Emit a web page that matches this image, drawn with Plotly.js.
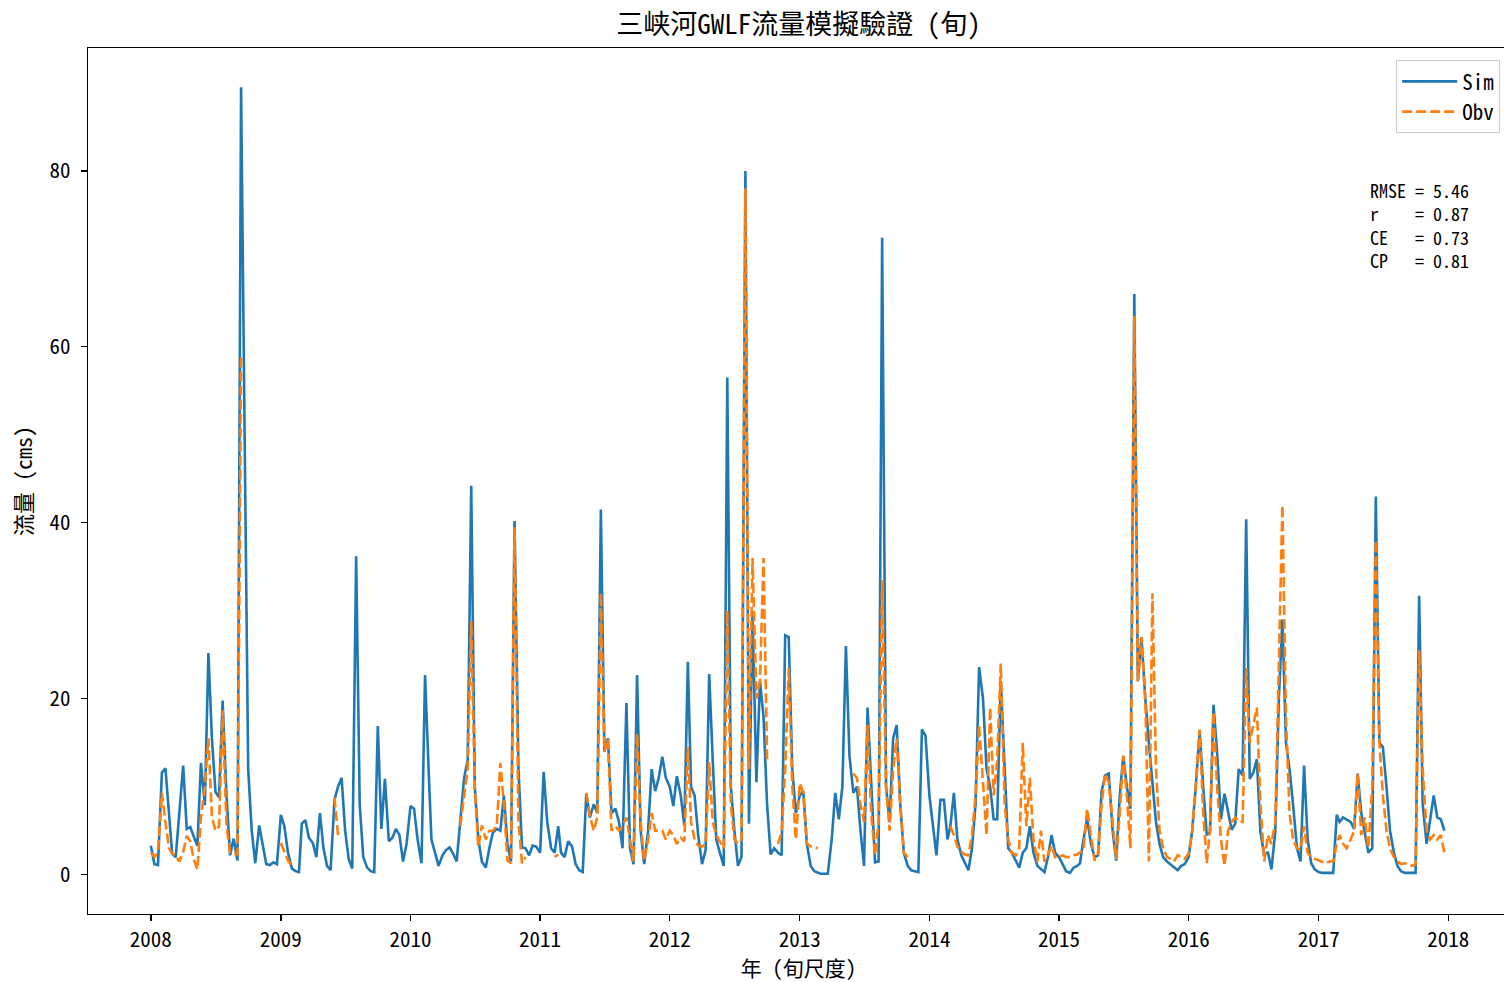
<!DOCTYPE html>
<html>
<head>
<meta charset="utf-8">
<script src="https://cdn.plot.ly/plotly-3.0.1.min.js"></script>
<style>
html,body{margin:0;padding:0;overflow:hidden;background:#fff;}
#chart{width:1510px;height:982px;}
</style>
</head>
<body>
<div id="chart"></div>
<script>
// ---- data (dekadal flow, cms), 36 dekads per year ----
const years = [2008, 2009, 2010, 2011, 2012, 2013, 2014, 2015, 2016, 2017];
const dekadDays = ['01', '11', '21'];

const sim2008 = [3.3, 1.2, 1.1, 11.6, 12.1, 6.8, 2.4, 2.0, 7.1, 12.4, 5.2, 5.4, 4.3, 3.3, 12.7, 7.9, 25.2, 15.4, 9.4, 8.8, 19.8, 9.0, 2.2, 4.1, 1.6, 89.5, 50, 12, 5, 1.3, 5.6, 3.3, 1.2, 1.1, 1.4, 1.2];
const sim2009 = [6.8, 5.5, 2.5, 0.7, 0.4, 0.3, 5.8, 6.2, 4.2, 3.6, 2.0, 7.0, 3.0, 1.0, 0.5, 8.5, 10.0, 11.0, 5.0, 1.8, 0.7, 36.2, 8.0, 2.0, 0.8, 0.4, 0.3, 16.9, 5.2, 10.9, 3.8, 4.2, 5.2, 4.5, 1.5, 3.5];
const sim2010 = [7.8, 7.5, 4.0, 1.3, 22.7, 12, 4, 2.5, 1.0, 2.2, 2.8, 3.1, 2.4, 1.5, 6, 11, 13, 44.2, 10, 4, 1.5, 0.8, 3, 4.8, 5.2, 5, 9.0, 3.5, 1.5, 40.2, 12, 3.1, 3.0, 2.2, 3.3, 3.2];
const sim2011 = [2.5, 11.7, 6, 3, 2.5, 5.5, 2.5, 2.0, 3.8, 3.2, 1.2, 0.5, 0.3, 9.2, 6.5, 8, 7, 41.5, 14, 15.5, 7, 7.5, 6, 3, 19.5, 3, 1.2, 22.7, 5, 1.2, 5, 12, 9.5, 11, 13.4, 11];
const sim2012 = [10, 7.8, 11.2, 9, 5.6, 24.2, 10, 9, 4.5, 1.2, 2.8, 22.8, 13, 4, 2.5, 1.0, 56.5, 10, 5, 1.0, 2.0, 80, 5.8, 30, 10.5, 22, 18, 8, 2.3, 3.0, 2.5, 2.2, 27.2, 27, 12, 7];
const sim2013 = [9, 9.5, 3.5, 1.0, 0.4, 0.2, 0.1, 0.1, 0.1, 4, 9.3, 6.3, 10, 26, 13.5, 9.3, 10, 5, 1.0, 19, 10, 1.4, 1.5, 72.4, 10, 6, 15.5, 17, 8, 2.5, 1.0, 0.5, 0.4, 0.3, 16.5, 15.8];
const sim2014 = [9, 5.5, 2.2, 8.5, 8.5, 4, 5.5, 9.3, 4, 2.2, 1.3, 0.5, 3, 8, 23.6, 20, 12, 10, 6.3, 6.3, 22, 12, 3, 2.5, 1.5, 0.8, 2.5, 3, 5.5, 2.5, 1.0, 0.6, 0.3, 2, 4.5, 2.5];
const sim2015 = [2.0, 1.2, 0.4, 0.2, 0.8, 1.0, 1.3, 4, 6.4, 3.5, 2.0, 2.2, 9.5, 11.3, 11.5, 5, 1.6, 9, 13.5, 10, 7.5, 66, 22, 27, 20, 15, 10, 6, 3.5, 2, 1.5, 1.2, 0.8, 0.5, 1.0, 1.2];
const sim2016 = [2, 5, 10, 16.3, 10, 4.5, 4.8, 19.3, 14, 6.3, 9.2, 7, 5.1, 5.8, 12, 11.3, 40.4, 10.9, 11.6, 13.1, 4.9, 2.2, 2.6, 0.6, 4.9, 20, 29, 15, 12, 8, 3, 1.5, 12.4, 4, 1.3, 0.6];
const sim2017 = [0.3, 0.2, 0.2, 0.2, 0.2, 6.8, 6.0, 6.5, 6.3, 6.0, 5.2, 11.5, 7, 4.5, 2.5, 3, 43, 15, 14.5, 10, 5, 2.5, 1.0, 0.4, 0.2, 0.2, 0.2, 0.2, 31.7, 8, 3.5, 6, 9, 6.5, 6.3, 5];

const obv2008 = [2.5, 2.0, 2.6, 9.3, 6.0, 3.0, 2.4, 2.2, 1.5, 2.6, 4.4, 3.8, 1.7, 0.6, 6.5, 10, 15.5, 6.5, 5, 5.5, 18.7, 5.5, 2.5, 2.4, 2.3, 59, null, null, null, null, null, null, null, null, null, null];
const obv2009 = [3.6, 2.6, 1.6, 1.0, null, null, null, null, null, null, null, null, null, null, null, 8.8, 4.5, null, null, null, null, null, null, null, null, null, null, null, null, null, null, null, null, null, null, null];
const obv2010 = [null, null, null, null, null, null, null, null, null, null, null, null, null, null, 5.5, 9, 12, 28.8, 10, 3.1, 5.6, 4, 5, 5, 5.5, 12.7, 8, 1.6, 1.3, 39.5, 6, 1.3, 2.0, null, null, null];
const obv2011 = [null, null, null, null, 2.0, 2.3, null, null, null, null, null, null, null, 9.3, 6.7, 5.0, 6.5, 32, 14, 15.4, 5, 5.5, 5.0, 5.5, 6.5, 4, 1.5, 16, 6, 1.6, 4, 7, 5, 5, 5, 4];
const obv2012 = [5.0, 4.5, 3.5, 4.2, 3.8, 14.5, 6, 4, 3.3, 3.2, 3.5, 12.8, 6, 4.5, 3.8, 3.0, 30, 8, 4, 3.5, 4, 78, 12, 36, 20, 22, 36, 13, null, null, 3.5, 4.8, 12, 23.5, 10, 4];
const obv2013 = [10.4, 9.3, 3.5, 3.2, 3.1, 3.0, null, null, null, null, null, null, null, null, null, 11.5, 11, 8, 6, 17, 7, 2.2, 6, 33.5, 10, 5, 12, 15.5, 8, 2.5, 2.0, null, null, null, null, null];
const obv2014 = [null, null, null, null, null, null, 5.5, 4.5, 3.2, 2.6, 2.3, 2.2, 4.5, 9, 17, 10, 4.5, 19, 9, 13, 24, 8, 4, 2.5, 2.2, 3, 15, 5.5, 11, 4, 1.5, 5, 1.5, 2.3, 3.3, 2.0];
const obv2015 = [2.0, 2.2, 2.0, 2.0, 2.2, 2.3, 2.5, 2.8, 7.5, 4.5, 1.6, 2.4, 8, 11.5, 10.5, 6, 1.8, 7, 13.5, 9, 3, 63.5, 22, 27, 20, 1.5, 32, 12, 5, 3, 2, 1.8, 1.5, 2.2, 2.0, 1.8];
const obv2016 = [2.4, 5, 10, 16.5, 7, 1.3, 5, 18.5, 10, 4, 1.0, 5, 6, 6.5, 6, 6, 23.5, 15, 17, 19, 8, 1.5, 4.5, 3.5, 6, 25, 42, 18, 7, 4, 3, 2.8, 5.5, 2.5, 2.0, 1.8];
const obv2017 = [1.6, 1.5, 1.3, 1.5, 1.5, 3.5, 4.5, 3.5, 3.0, 4, 5, 11.5, 4.5, 6.5, 3, 10, 38, 15, 9, 5, 3, 2, 1.5, 1.2, 1.3, 1.2, 1.0, 1.2, 25.5, 12, 5, 4, 4.5, 4, 4.5, 2.5];

const simByYear = [sim2008, sim2009, sim2010, sim2011, sim2012, sim2013, sim2014, sim2015, sim2016, sim2017];
const obvByYear = [obv2008, obv2009, obv2010, obv2011, obv2012, obv2013, obv2014, obv2015, obv2016, obv2017];

const statLabels = ['RMSE', 'r', 'CE', 'CP'];
const statValues = ['5.46', '0.87', '0.73', '0.81'];
const yearTicks = ['2008', '2009', '2010', '2011', '2012', '2013', '2014', '2015', '2016', '2017', '2018'];

// ---- build series ----
const dates = [], sim = [], obv = [];
years.forEach((y, yi) => {
  for (let k = 0; k < 36; k++) {
    const m = Math.floor(k / 3) + 1;
    dates.push(y + '-' + String(m).padStart(2, '0') + '-' + dekadDays[k % 3]);
    sim.push(simByYear[yi][k]);
    obv.push(obvByYear[yi][k]);
  }
});

const FONT = '"Noto Sans Mono CJK SC", "Noto Sans CJK SC", sans-serif';
const traces = [
  {x: dates, y: sim, name: 'Sim', type: 'scatter', mode: 'lines',
   line: {color: '#1f77b4', width: 2.6}, connectgaps: false},
  {x: dates, y: obv, name: 'Obv', type: 'scatter', mode: 'lines',
   line: {color: '#ff7f0e', width: 2.6, dash: '10px,4px'}, connectgaps: false}
];

const statText = statLabels.map((lab, i) =>
  (lab + '    ').slice(0, 5).replace(/ /g, '\u00a0') + '=\u00a0' + statValues[i]).join('<br>');

const annotations = [{
  xref: 'paper', yref: 'paper', x: (1368 - 88) / 1421, y: (914 - 175) / 866,
  xanchor: 'left', yanchor: 'top', align: 'left', showarrow: false,
  text: statText,
  font: {family: FONT, size: 18, color: '#000'}
}];

const layout = {
  width: 1510, height: 982,
  margin: {l: 88, r: 1, t: 48, b: 68},
  paper_bgcolor: '#fff', plot_bgcolor: '#fff',
  font: {family: FONT, color: '#000', size: 21},
  title: {text: '三峡河GWLF流量模擬驗證 (旬)', x: 0.5, xref: 'paper', xanchor: 'center',
          y: 1 - 25 / 982, yref: 'container', yanchor: 'middle',
          font: {family: FONT, size: 27, color: '#000'}},
  showlegend: true,
  legend: {x: (1500 - 88) / 1421, xanchor: 'right', y: (914 - 60) / 866, yanchor: 'top',
           bgcolor: 'rgba(255,255,255,0.8)', bordercolor: '#cccccc', borderwidth: 1.2,
           itemwidth: 55, tracegroupgap: 4,
           font: {family: FONT, size: 21, color: '#000'}},
  xaxis: {type: 'date', range: ['2007-07-08', '2018-06-21'],
          tickmode: 'array', tickvals: yearTicks.map(t => t + '-01-01'), ticktext: yearTicks,
          showline: true, linecolor: '#000', linewidth: 1.3, mirror: true,
          ticks: 'outside', ticklen: 6, tickwidth: 1.3, tickcolor: '#000',
          showgrid: false, zeroline: false,
          tickfont: {family: FONT, size: 21, color: '#000'},
          title: {text: '年 (旬尺度)', standoff: 16, font: {family: FONT, size: 21, color: '#000'}}},
  yaxis: {range: [-4.47, 93.97], tickmode: 'array', tickvals: [0, 20, 40, 60, 80],
          showline: true, linecolor: '#000', linewidth: 1.3, mirror: true,
          ticks: 'outside', ticklen: 6, tickwidth: 1.3, tickcolor: '#000',
          ticklabelstandoff: 6,
          showgrid: false, zeroline: false,
          tickfont: {family: FONT, size: 21, color: '#000'},
          title: {text: '流量 (cms)', standoff: 10, font: {family: FONT, size: 22, color: '#000'}}},
  annotations: annotations
};

Plotly.newPlot('chart', traces, layout, {staticPlot: true, displayModeBar: false});
</script>
</body>
</html>
